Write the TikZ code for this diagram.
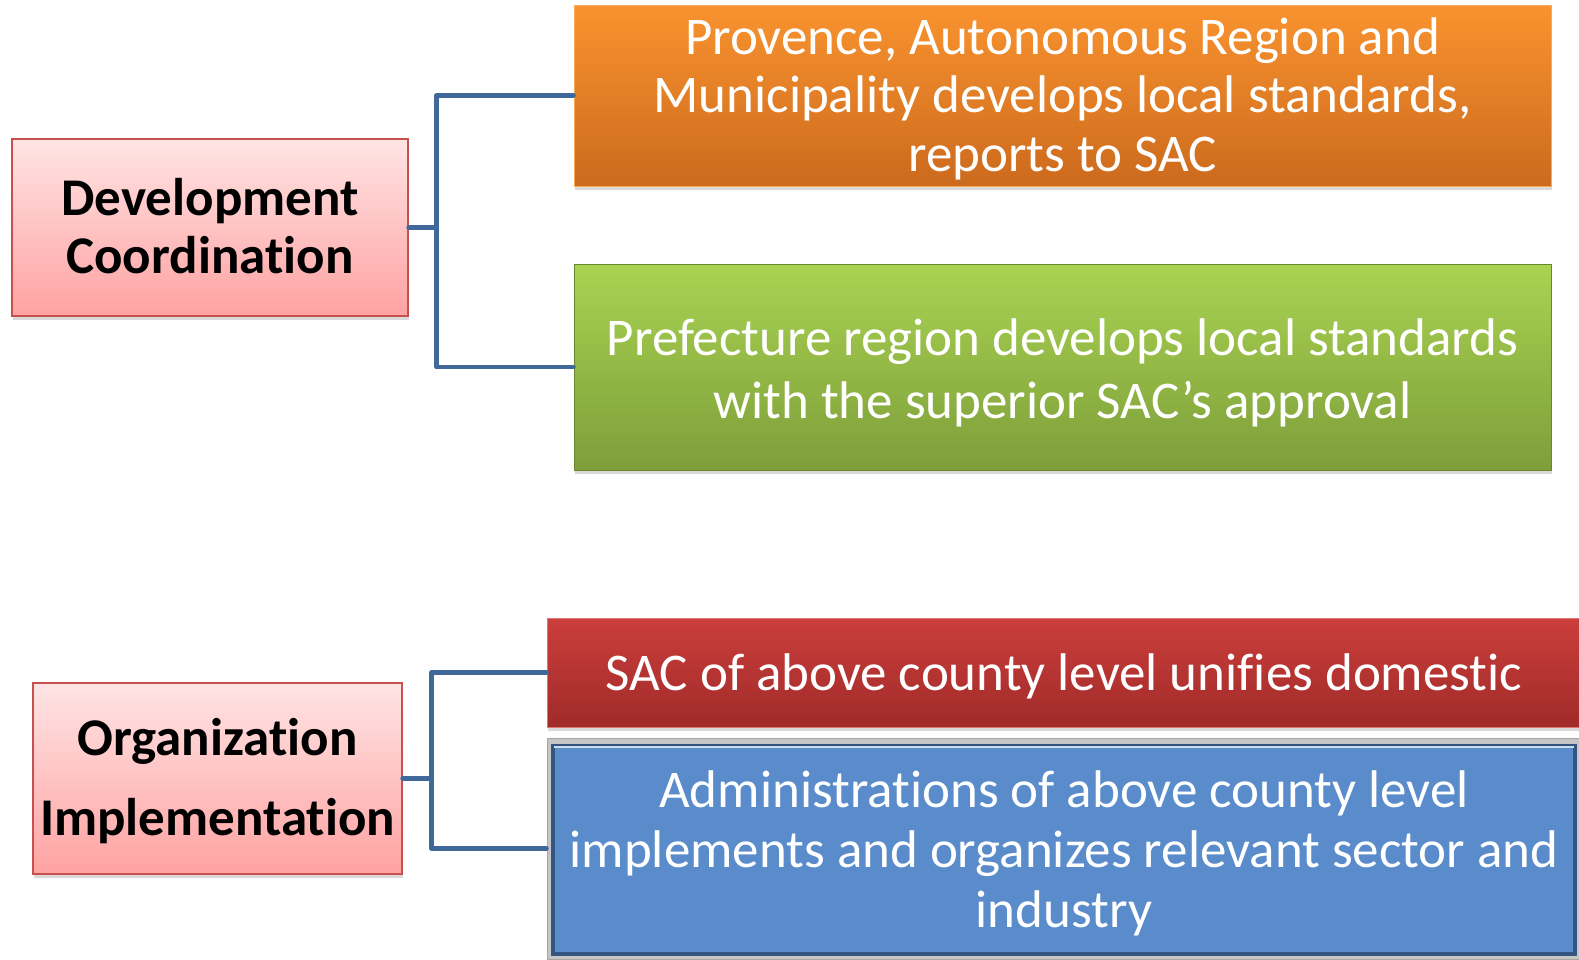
\documentclass[tikz,border=0pt]{standalone}
\usepackage{fontspec}
\setmainfont[Ligatures={NoCommon,NoRequired,NoContextual}]{Carlito}
\usetikzlibrary{shadows}
\definecolor{conn}{HTML}{41689A}
\definecolor{pinkT}{HTML}{FFE4E4}
\definecolor{pinkB}{HTML}{FFA2A2}
\definecolor{pinkD}{HTML}{C8504E}
\definecolor{oraT}{HTML}{F9932F}
\definecolor{oraB}{HTML}{CC6A1D}
\definecolor{greT}{HTML}{A9D352}
\definecolor{greB}{HTML}{7E9E3A}
\definecolor{redT}{HTML}{CB3E3B}
\definecolor{redB}{HTML}{A02B29}
\definecolor{bluF}{HTML}{5A8CCB}
\definecolor{bluD}{HTML}{34557F}
\tikzset{
  x=1pt,y=-1pt,
  shd/.style={drop shadow={shadow xshift=1pt,shadow yshift=-4pt,opacity=0.3}},
  leftbox/.style={shd,draw=pinkD,line width=1.2pt,top color=pinkT,bottom color=pinkB,inner sep=0pt},
  lefttext/.style={align=center,text=black,inner sep=0pt},
  rightbox/.style={shd,inner sep=0pt},
  righttext/.style={align=center,text=white,inner sep=0pt},
  link/.style={draw=conn,line width=4.5pt,line cap=round,line join=round},
}
\begin{document}
\begin{tikzpicture}
\useasboundingbox (0,0) rectangle (1579,959);
% left boxes
\node[leftbox,minimum width=396pt,minimum height=177pt] (dev) at (210,227.5) {};
\node[lefttext,font=\fontsize{53}{58}\selectfont\bfseries] (devt) at ([yshift=1pt]dev.center)
  {Development\\Coordination};
\node[leftbox,minimum width=369pt,minimum height=191pt] (org) at (217.5,778.5) {};
\node[lefttext,font=\fontsize{53}{80}\selectfont\bfseries] (orgt) at ([yshift=-3pt]org.center)
  {Organization\\Implementation};
% right boxes
\node[rightbox,draw=oraT!80!white,line width=1pt,top color=oraT,bottom color=oraB,minimum width=977pt,minimum height=181pt] (ora) at (1062.5,95.5) {};
\node[righttext,font=\fontsize{53}{58.4}\selectfont] (orat) at ([yshift=-3pt]ora.center)
  {Provence, Autonomous Region and\\Municipality develops local standards,\\reports to SAC};
\node[rightbox,draw=greB!85!black,line width=1pt,top color=greT,bottom color=greB,minimum width=977pt,minimum height=206pt] (gre) at (1062.5,367) {};
\node[righttext,font=\fontsize{53}{63}\selectfont] (gret) at ([yshift=-6pt]gre.center)
  {Prefecture region develops local standards\\with the superior SAC’s approval};
\node[rightbox,draw=redT!70!white,line width=1pt,top color=redT,bottom color=redB,minimum width=1034pt,minimum height=109pt] (red) at (1064,672.5) {};
\node[righttext,font=\fontsize{53}{60}\selectfont] (redt) at ([yshift=-4pt]red.center)
  {SAC of above county level unifies domestic};
% blue bevelled box
\node[shd,fill=gray!45,draw=gray!70,line width=1pt,minimum width=1032pt,minimum height=221pt,inner sep=0pt] (bluo) at (1063,848.5) {};
\node[draw=bluD,line width=4pt,fill=bluF,minimum width=1022pt,minimum height=208pt,inner sep=0pt] (blu) at (1064,850) {};
\draw[draw=white!70!bluF,line width=1.5pt] ([xshift=3pt,yshift=-3pt]blu.north west) -- ([xshift=-3pt,yshift=-3pt]blu.north east);
\node[righttext,font=\fontsize{53}{60}\selectfont] (blut) at ([yshift=-3pt]blu.center)
  {Administrations of above county level\\implements and organizes relevant sector and\\industry};
% connectors
\coordinate (j1) at ([xshift=28pt]dev.east);
\draw[link] (dev.east) -- (j1);
\draw[link] (ora.west) -| (j1) |- (gre.west);
\coordinate (j2) at ([xshift=29pt]org.east);
\draw[link] (org.east) -- (j2);
\draw[link] (red.west) -| (j2) |- (bluo.west);
\end{tikzpicture}
\end{document}
